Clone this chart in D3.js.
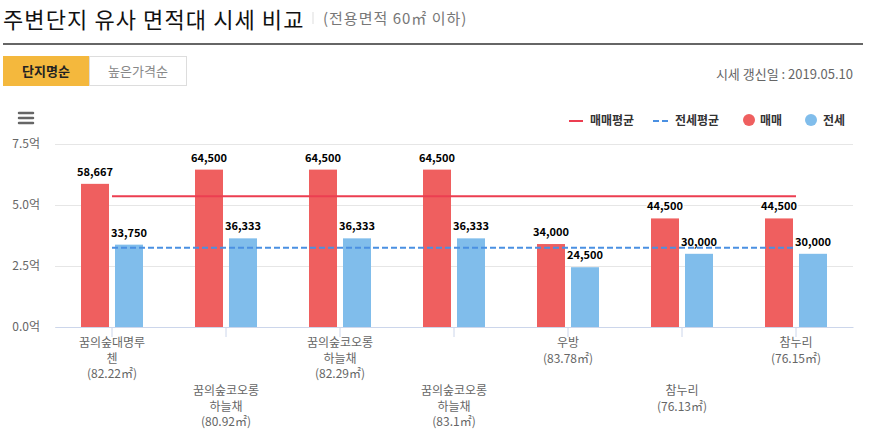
<!DOCTYPE html>
<html>
<head>
<meta charset="utf-8">
<script src="https://cdn.jsdelivr.net/npm/d3@7"></script>
<style>
  body { margin: 0; background: #fff; font-family: "Noto Sans CJK KR", "Noto Sans", sans-serif; }
  svg text { font-family: "Noto Sans CJK KR", "Noto Sans", sans-serif; }
</style>
</head>
<body>
<svg id="chart" width="877" height="434"></svg>
<script>
// values in 만원
const categories = ["꿈의숲대명루첸", "꿈의숲코오롱하늘채", "꿈의숲코오롱하늘채", "꿈의숲코오롱하늘채", "우방", "참누리", "참누리"]
const areas = ["82.22㎡", "80.92㎡", "82.29㎡", "83.1㎡", "83.78㎡", "76.13㎡", "76.15㎡"]
const saleValues = [58667, 64500, 64500, 64500, 34000, 44500, 44500]
const jeonseValues = [33750, 36333, 36333, 36333, 24500, 30000, 30000]
const yTicks = [0, 2.5, 5, 7.5]
const seriesNames = ["매매", "전세"]

;(function () {
    const svg = d3.select("#chart")
    const red = "#ef5f5f", blue = "#80bdeb"
    const redLine = "#ec3e51", blueLine = "#4a90e2"

    // header
    svg.append("text").attr("x", 3).attr("y", 28)
        .attr("font-size", 22).attr("letter-spacing", 1.1).attr("fill", "#111").text("주변단지 유사 면적대 시세 비교")
    svg.append("line").attr("x1", 313).attr("x2", 313).attr("y1", 12).attr("y2", 24)
        .attr("stroke", "#ddd").attr("stroke-width", 1)
    svg.append("text").attr("x", 323).attr("y", 24)
        .attr("font-size", 15).attr("letter-spacing", 1).attr("fill", "#777").text("(전용면적 60㎡ 이하)")
    svg.append("rect").attr("x", 3).attr("y", 43).attr("width", 860).attr("height", 2).attr("fill", "#666")

    // sort buttons
    svg.append("rect").attr("x", 3).attr("y", 56).attr("width", 86).attr("height", 30).attr("fill", "#f4b83d")
    svg.append("text").attr("x", 46).attr("y", 76).attr("text-anchor", "middle")
        .attr("font-size", 13).attr("font-weight", "bold").attr("fill", "#222").text("단지명순")
    svg.append("rect").attr("x", 89.5).attr("y", 56.5).attr("width", 97).attr("height", 29)
        .attr("fill", "#fff").attr("stroke", "#ddd")
    svg.append("text").attr("x", 138).attr("y", 76).attr("text-anchor", "middle")
        .attr("font-size", 13).attr("fill", "#888").text("높은가격순")
    svg.append("text").attr("x", 853).attr("y", 79).attr("text-anchor", "end")
        .attr("font-size", 13).attr("fill", "#666").text("시세 갱신일 : 2019.05.10")

    // menu icon
    svg.append("g").selectAll("line").data([0, 5, 10]).join("line")
        .attr("x1", 19).attr("x2", 33).attr("y1", d => 113 + d).attr("y2", d => 113 + d)
        .attr("stroke", "#666").attr("stroke-width", 2.5).attr("stroke-linecap", "round")

    const margin = {top: 144, left: 55, right: 853, bottom: 327}
    const x = d3.scaleBand().domain(d3.range(categories.length)).range([margin.left, margin.right])
    const x1 = d3.scaleBand().domain(seriesNames)
        .range([x.bandwidth() / 2 - 31, x.bandwidth() / 2 + 31]).paddingInner(6 / 34)
    const y = d3.scaleLinear().domain([0, 7.5]).range([margin.bottom, margin.top])
    const eok = v => v / 10000

    // grid + y axis
    const yAxis = svg.append("g").attr("transform", "translate(" + margin.left + ",0)")
        .call(d3.axisLeft(y).tickValues(yTicks).tickSize(-(margin.right - margin.left))
            .tickFormat(d => d3.format(".1f")(d) + "억").tickPadding(15))
    yAxis.select(".domain").remove()
    yAxis.selectAll(".tick line").attr("stroke", "#e6e6e6")
    yAxis.selectAll(".tick text").attr("font-size", 12).attr("fill", "#666")
        .attr("x", -15).attr("text-anchor", "end")

    // bars
    const groups = svg.append("g").selectAll("g").data(categories).join("g")
        .attr("transform", (d, i) => "translate(" + x(i) + ",0)")
    const rows = (i) => [{s: "매매", v: saleValues[i]}, {s: "전세", v: jeonseValues[i]}]
    groups.selectAll("rect").data((d, i) => rows(i)).join("rect")
        .attr("x", d => x1(d.s)).attr("width", x1.bandwidth())
        .attr("y", d => y(eok(d.v))).attr("height", d => y(0) - y(eok(d.v)))
        .attr("fill", d => d.s === "매매" ? red : blue)

    // x axis
    const xAxis = svg.append("g").attr("transform", "translate(0," + margin.bottom + ")")
        .call(d3.axisBottom(x).tickSize(10).tickSizeOuter(0).tickFormat(""))
    xAxis.select(".domain").attr("stroke", "#ccd6eb")
    xAxis.selectAll(".tick line").attr("stroke", "#ccd6eb")

    // average lines
    const saleAvg = d3.mean(saleValues), jeonseAvg = d3.mean(jeonseValues)
    const xs = x(0) + x.bandwidth() / 2, xe = x(categories.length - 1) + x.bandwidth() / 2
    svg.append("line").attr("x1", xs).attr("x2", xe)
        .attr("y1", y(eok(jeonseAvg))).attr("y2", y(eok(jeonseAvg)))
        .attr("stroke", blueLine).attr("stroke-width", 2).attr("stroke-dasharray", "6,3")
    svg.append("line").attr("x1", xs).attr("x2", xe)
        .attr("y1", y(eok(saleAvg))).attr("y2", y(eok(saleAvg)))
        .attr("stroke", redLine).attr("stroke-width", 2)

    // data labels
    groups.selectAll("text.val").data((d, i) => rows(i)).join("text")
        .attr("class", "val")
        .attr("x", d => x1(d.s) + x1.bandwidth() / 2)
        .attr("y", d => y(eok(d.v)) - 8)
        .attr("text-anchor", "middle").attr("font-size", 11).attr("font-weight", "bold")
        .attr("fill", "#000").attr("stroke", "#fff").attr("stroke-width", 2.5)
        .attr("paint-order", "stroke").attr("stroke-linejoin", "round")
        .text(d => d3.format(",")(d.v))

    // category labels, staggered in two rows
    const labels = svg.append("g").selectAll("text").data(categories).join("text")
        .attr("text-anchor", "middle").attr("font-size", 12).attr("fill", "#666")
        .attr("transform", (d, i) => "translate(" + (x(i) + x.bandwidth() / 2) + "," + (i % 2 ? 395 : 347) + ")")
    labels.each(function (d, i) {
        const lines = []
        for (let k = 0; k < d.length; k += 6) lines.push(d.slice(k, k + 6))
        lines.push("(" + areas[i] + ")")
        d3.select(this).selectAll("tspan").data(lines).join("tspan")
            .attr("x", 0).attr("dy", (l, j) => j ? 15.5 : 0).text(l => l)
    })

    // legend
    const lg = svg.append("g").attr("font-size", 12).attr("font-weight", "bold").attr("fill", "#333")
    lg.append("line").attr("x1", 569).attr("x2", 583).attr("y1", 121).attr("y2", 121)
        .attr("stroke", redLine).attr("stroke-width", 2)
    lg.append("text").attr("x", 590).attr("y", 125).text("매매평균")
    lg.append("line").attr("x1", 653).attr("x2", 669).attr("y1", 121).attr("y2", 121)
        .attr("stroke", blueLine).attr("stroke-width", 2).attr("stroke-dasharray", "6,3")
    lg.append("text").attr("x", 675).attr("y", 125).text("전세평균")
    lg.append("circle").attr("cx", 749).attr("cy", 120).attr("r", 6).attr("fill", red)
    lg.append("text").attr("x", 760).attr("y", 125).text(seriesNames[0])
    lg.append("circle").attr("cx", 811).attr("cy", 120).attr("r", 6).attr("fill", blue)
    lg.append("text").attr("x", 823).attr("y", 125).text(seriesNames[1])
})()
</script>
</body>
</html>
